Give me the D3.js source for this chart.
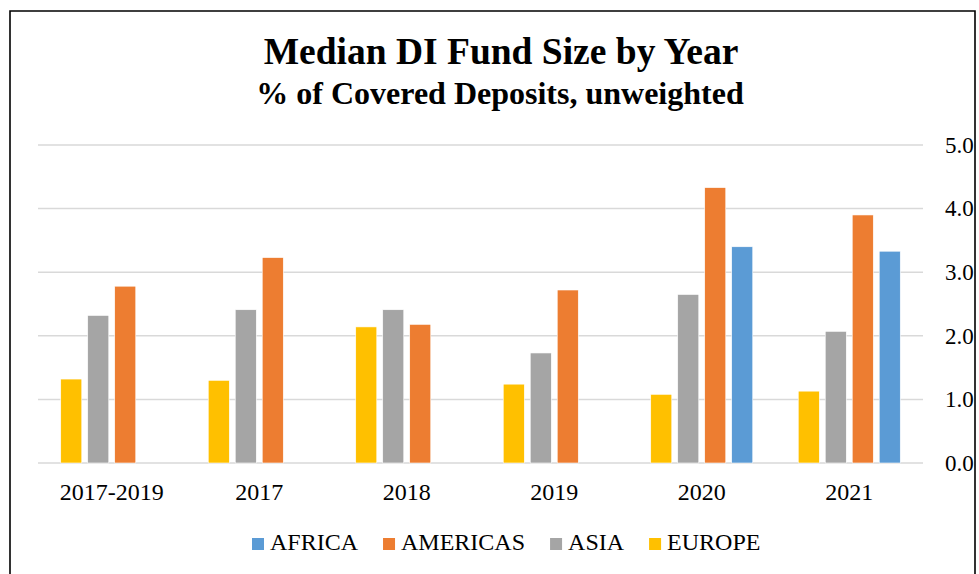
<!DOCTYPE html>
<html lang="en">
<head>
<meta charset="UTF-8">
<title>Median DI Fund Size by Year</title>
<script src="https://d3js.org/d3.v7.min.js"></script>
<style>
  body { margin: 0; background: #fff; }
  svg text { font-family: "Liberation Serif", "Times New Roman", serif; fill: #000; }
</style>
</head>
<body>
<div id="chart"></div>
<script>
// categories along the x axis
var years = ["2017-2019", "2017", "2018", "2019", "2020", "2021"];

// series order inside each cluster (left to right)
var regions = ["EUROPE", "ASIA", "AMERICAS", "AFRICA"];
// legend order
var legendOrder = ["AFRICA", "AMERICAS", "ASIA", "EUROPE"];

// values (% of covered deposits); null = no bar
var europe   = [1.32, 1.30, 2.14, 1.24, 1.08, 1.13];
var asia     = [2.32, 2.41, 2.41, 1.73, 2.65, 2.07];
var americas = [2.78, 3.23, 2.18, 2.72, 4.33, 3.90];
var africa   = [null, null, null, null, 3.40, 3.33];

var yTicks = [0, 1, 2, 3, 4, 5];

var seriesValues = { EUROPE: europe, ASIA: asia, AMERICAS: americas, AFRICA: africa };
var colors = { AFRICA: "#5B9BD5", AMERICAS: "#ED7D31", ASIA: "#A5A5A5", EUROPE: "#FFC000" };

var W = 979, H = 574;
var plot = { left: 38, right: 923, top: 145, bottom: 463 };

var svg = d3.select("#chart").append("svg")
    .attr("width", W)
    .attr("height", H);

svg.append("rect").attr("width", W).attr("height", H).attr("fill", "#fff");

// outer frame (bottom edge is cut off in the original)
svg.append("path")
    .attr("d", "M10," + (H + 2) + "V11H975V" + (H + 2))
    .attr("fill", "none")
    .attr("stroke", "#000")
    .attr("stroke-width", 1.6);

var x0 = d3.scaleBand()
    .domain(years)
    .range([plot.left, plot.right])
    .paddingInner(0.268)
    .paddingOuter(0.134);

var x1 = d3.scaleBand()
    .domain(regions)
    .range([0, x0.bandwidth()])
    .paddingInner(0.22)
    .paddingOuter(0.11);

var y = d3.scaleLinear()
    .domain([0, 5])
    .range([plot.bottom, plot.top]);

// gridlines
svg.append("g")
    .selectAll("line")
    .data(yTicks)
    .enter().append("line")
    .attr("x1", plot.left)
    .attr("x2", plot.right)
    .attr("y1", d => y(d))
    .attr("y2", d => y(d))
    .attr("stroke", "#d9d9d9")
    .attr("stroke-width", 1.5);

// right hand value labels
var yAxis = svg.append("g")
    .attr("transform", "translate(" + plot.right + ",0)")
    .call(d3.axisRight(y).tickValues(yTicks).tickFormat(d3.format(".1f")).tickSize(0).tickPadding(22));
yAxis.select(".domain").remove();
yAxis.selectAll("text")
    .style("font-family", "Liberation Serif")
    .style("font-size", "23px")
    .attr("fill", "#000");

// bars
var flat = [];
years.forEach(function (yr, i) {
    regions.forEach(function (r) {
        var v = seriesValues[r][i];
        if (v != null) flat.push({ year: yr, region: r, value: v });
    });
});

svg.append("g")
    .selectAll("rect")
    .data(flat)
    .enter().append("rect")
    .attr("x", d => x0(d.year) + x1(d.region))
    .attr("width", x1.bandwidth())
    .attr("y", d => y(d.value))
    .attr("height", d => y(0) - y(d.value))
    .attr("fill", d => colors[d.region])
    .attr("stroke", "#fff")
    .attr("stroke-width", 0.6);

// category labels
var xAxis = svg.append("g")
    .attr("transform", "translate(0," + plot.bottom + ")")
    .call(d3.axisBottom(x0).tickSize(0).tickPadding(20));
xAxis.select(".domain").remove();
xAxis.selectAll("text")
    .style("font-family", "Liberation Serif")
    .style("font-size", "24px")
    .attr("fill", "#000");

// titles
svg.append("text")
    .attr("x", 501)
    .attr("y", 64)
    .attr("text-anchor", "middle")
    .style("font-size", "37.5px")
    .style("font-weight", "bold")
    .text("Median DI Fund Size by Year");

svg.append("text")
    .attr("x", 500)
    .attr("y", 104)
    .attr("text-anchor", "middle")
    .style("font-size", "32px")
    .style("font-weight", "bold")
    .text("% of Covered Deposits, unweighted");

// legend
var legend = svg.append("g").attr("transform", "translate(252,0)");
var lx = 0;
legendOrder.forEach(function (r) {
    var g = legend.append("g").attr("transform", "translate(" + lx + ",0)");
    g.append("rect")
        .attr("x", 0).attr("y", 538)
        .attr("width", 12).attr("height", 12)
        .attr("fill", colors[r]);
    var t = g.append("text")
        .attr("x", 18).attr("y", 550)
        .style("font-size", "24px")
        .text(r);
    lx += 18 + t.node().getComputedTextLength() + 25;
});
</script>
</body>
</html>
